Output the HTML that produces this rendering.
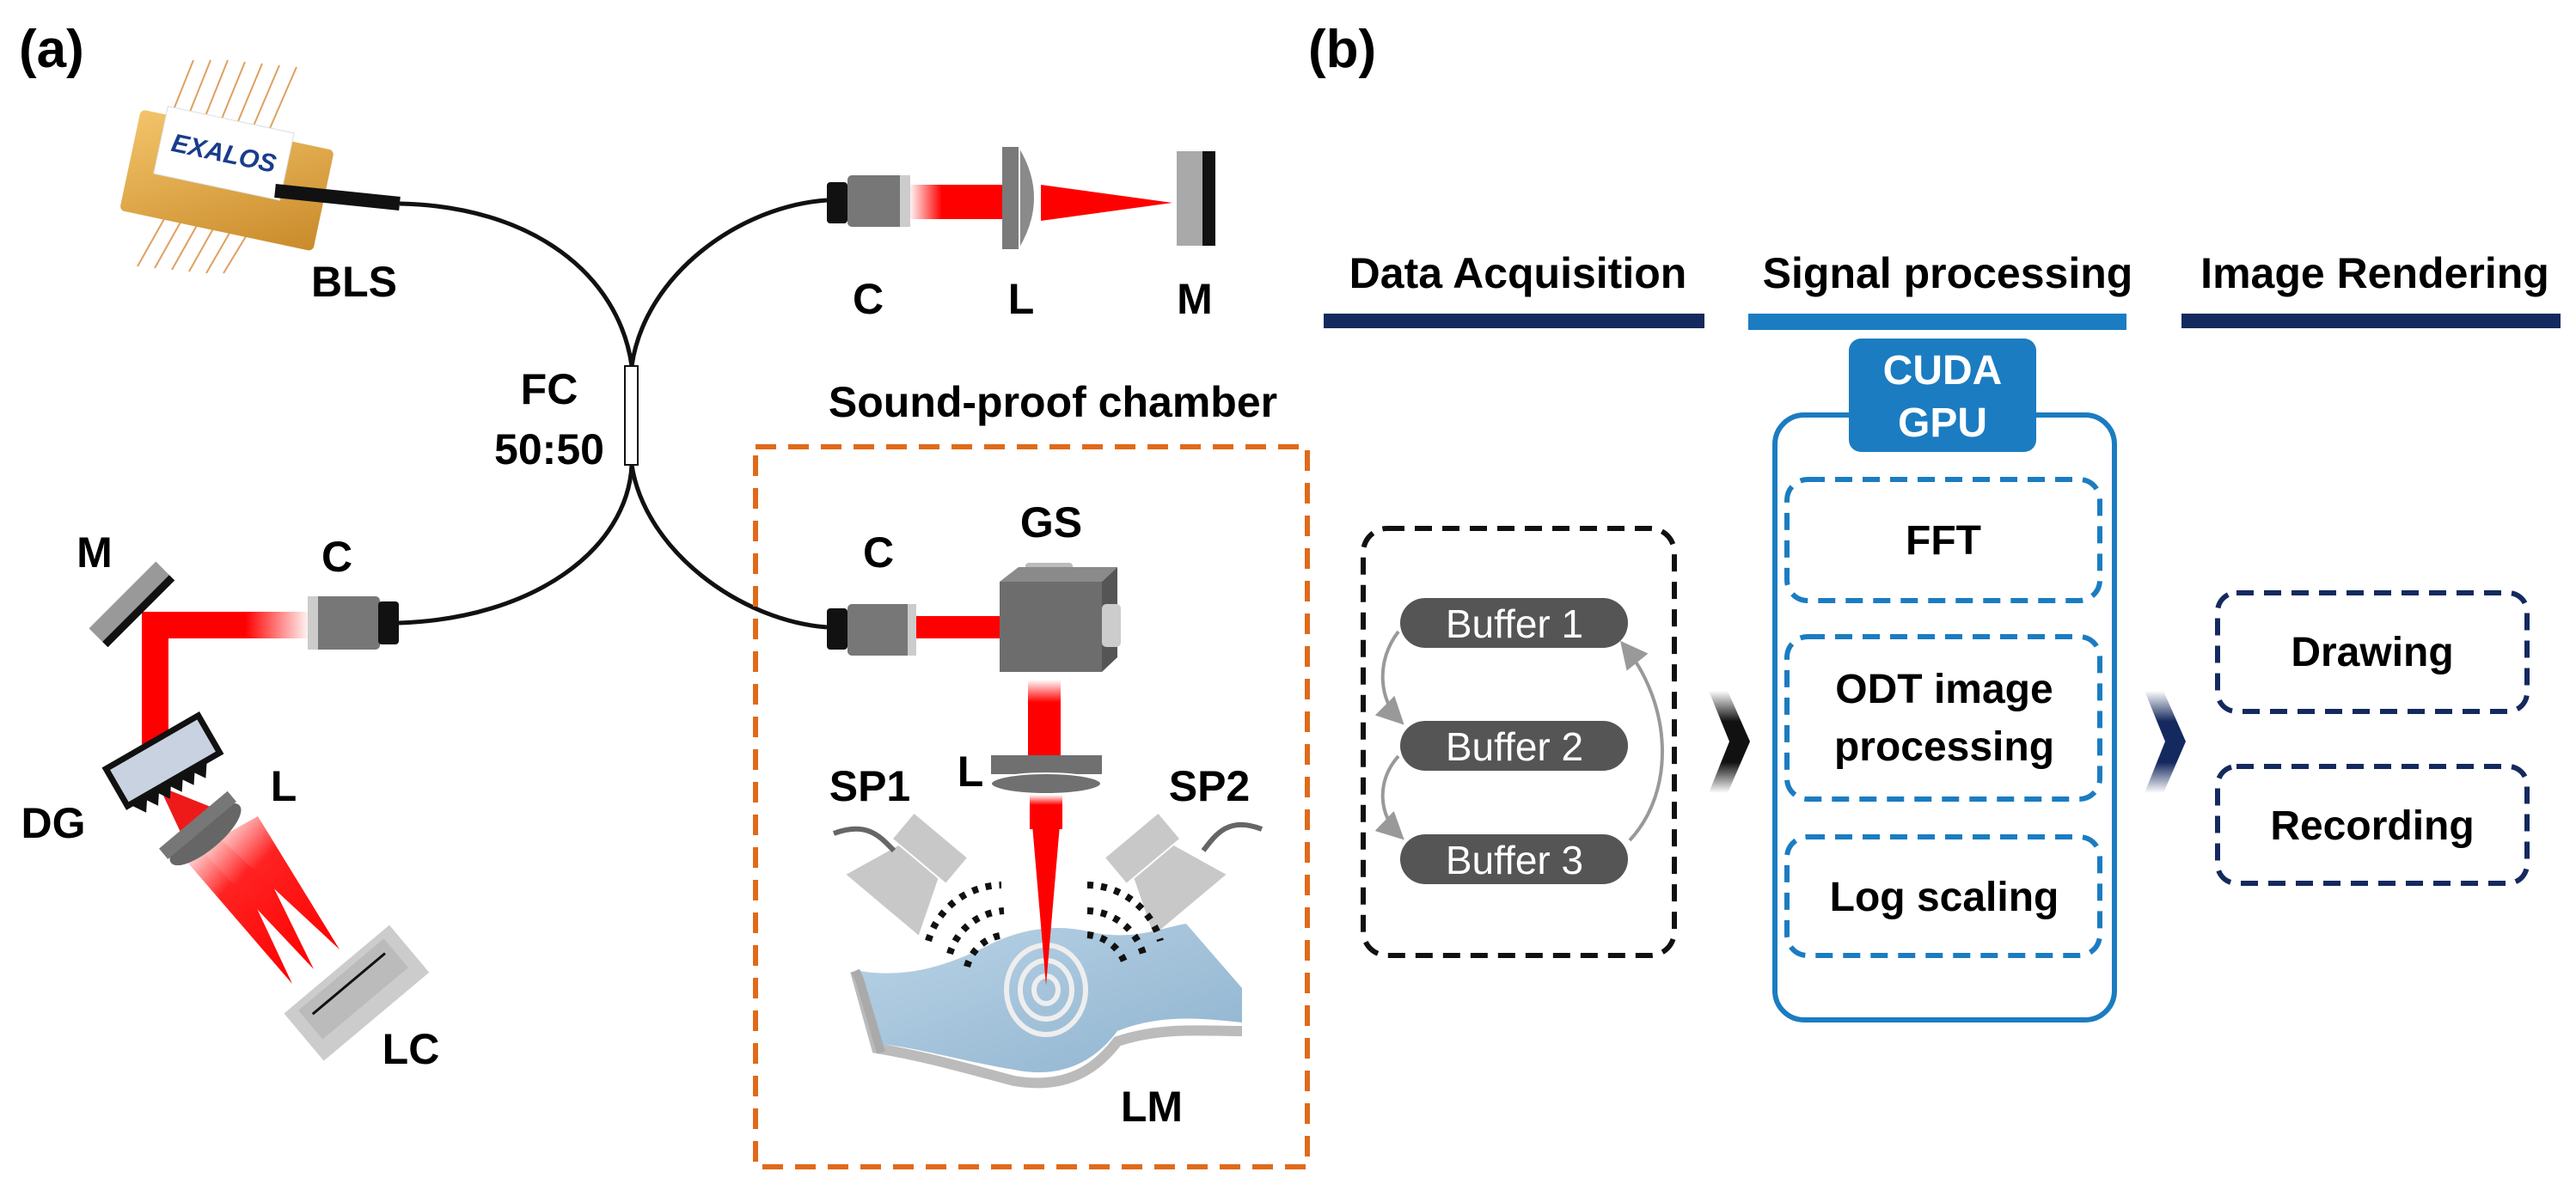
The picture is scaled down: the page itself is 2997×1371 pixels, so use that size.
<!DOCTYPE html>
<html><head><meta charset="utf-8"><style>
html,body{margin:0;padding:0;background:#fff;}
svg{display:block;}
text{font-family:"Liberation Sans","DejaVu Sans",sans-serif;font-weight:bold;}
</style></head><body>
<svg width="2997" height="1371" viewBox="0 0 2997 1371" xmlns="http://www.w3.org/2000/svg">
<defs>
<linearGradient id="fadeL" x1="0" x2="1"><stop offset="0" stop-color="#fff"/><stop offset="0.35" stop-color="#f00"/><stop offset="1" stop-color="#f00"/></linearGradient>
<linearGradient id="fadeR" x1="0" x2="1"><stop offset="0" stop-color="#f00"/><stop offset="0.6" stop-color="#f00"/><stop offset="1" stop-color="#fff"/></linearGradient>
<linearGradient id="fadeD" x1="0" y1="0" x2="0" y2="1"><stop offset="0" stop-color="#fff"/><stop offset="0.3" stop-color="#f00"/><stop offset="1" stop-color="#f00"/></linearGradient>
<linearGradient id="fan" x1="0" y1="0" x2="1" y2="1"><stop offset="0" stop-color="#fff"/><stop offset="0.35" stop-color="#f22"/><stop offset="1" stop-color="#f00"/></linearGradient>
<linearGradient id="gold" x1="0" y1="0" x2="1" y2="1"><stop offset="0" stop-color="#f3c46a"/><stop offset="1" stop-color="#c98a2a"/></linearGradient>
<linearGradient id="water" x1="0" y1="0" x2="1" y2="1"><stop offset="0" stop-color="#b9d3e6"/><stop offset="1" stop-color="#8fb3cf"/></linearGradient>
<linearGradient id="chevK" x1="0" y1="0" x2="0" y2="1"><stop offset="0" stop-color="#fff"/><stop offset="0.3" stop-color="#111"/><stop offset="0.7" stop-color="#111"/><stop offset="1" stop-color="#fff"/></linearGradient>
<linearGradient id="chevN" x1="0" y1="0" x2="0" y2="1"><stop offset="0" stop-color="#fff"/><stop offset="0.3" stop-color="#14295e"/><stop offset="0.7" stop-color="#14295e"/><stop offset="1" stop-color="#fff"/></linearGradient>
<marker id="ga" markerWidth="8" markerHeight="8" refX="6" refY="4" orient="auto"><path d="M0,0 L8,4 L0,8z" fill="#999"/></marker>
</defs>

<text x="22" y="78" font-size="62">(a)</text>

<g stroke="#e0a060" stroke-width="2">
<line x1="225" y1="70" x2="185" y2="170"/><line x1="245" y1="70" x2="205" y2="170"/><line x1="265" y1="70" x2="225" y2="170"/><line x1="285" y1="72" x2="245" y2="170"/><line x1="305" y1="74" x2="265" y2="170"/><line x1="325" y1="76" x2="285" y2="170"/><line x1="345" y1="78" x2="305" y2="170"/>
<line x1="205" y1="230" x2="160" y2="310"/><line x1="225" y1="232" x2="180" y2="312"/><line x1="245" y1="234" x2="200" y2="314"/><line x1="265" y1="236" x2="220" y2="316"/><line x1="285" y1="240" x2="240" y2="318"/><line x1="305" y1="244" x2="260" y2="318"/>
</g>
<g transform="translate(265,205) rotate(12)">
<rect x="-115" y="-55" width="230" height="120" rx="6" fill="url(#gold)"/>
<rect x="-85" y="-65" width="150" height="80" fill="#fff" stroke="#ddd"/>
<text x="-10" y="-15" font-size="30" fill="#1a3c8c" font-style="italic" text-anchor="middle">EXALOS</text>
</g>
<path d="M320,222 L465,237" stroke="#111" stroke-width="16" fill="none"/>
<text x="412" y="345" font-size="50" text-anchor="middle">BLS</text>

<g stroke="#111" stroke-width="5" fill="none">
<path d="M465,237 C620,240 720,320 735,426"/>
<path d="M962,233 C860,240 750,320 735,426"/>
<path d="M735,541 C730,640 620,720 464,725"/>
<path d="M735,541 C750,640 860,722 962,730"/>
</g>
<rect x="727" y="426" width="15" height="115" fill="#fff" stroke="#111" stroke-width="2"/>
<text x="639" y="470" font-size="50" text-anchor="middle">FC</text>
<text x="639" y="540" font-size="50" text-anchor="middle">50:50</text>

<rect x="1057" y="215" width="111" height="40" fill="url(#fadeL)"/>
<rect x="962" y="212" width="24" height="48" rx="4" fill="#111"/>
<rect x="986" y="204" width="71" height="60" rx="5" fill="#777"/>
<rect x="1047" y="204" width="12" height="60" fill="#ccc"/>
<polygon points="1211,215 1364,236 1211,257" fill="#f00"/>
<rect x="1166" y="171" width="20" height="119" fill="#7a7a7a"/>
<path d="M1186,171 Q1222,230 1186,290 Z" fill="#8a8a8a" stroke="#fff" stroke-width="2"/>
<rect x="1369" y="176" width="30" height="110" fill="#a9a9a9"/>
<rect x="1399" y="176" width="15" height="110" fill="#111"/>
<text x="1010" y="365" font-size="50" text-anchor="middle">C</text>
<text x="1188" y="365" font-size="50" text-anchor="middle">L</text>
<text x="1390" y="365" font-size="50" text-anchor="middle">M</text>

<rect x="170" y="712" width="192" height="31" fill="url(#fadeR)"/>
<rect x="165" y="712" width="31" height="170" fill="#f00"/>
<rect x="362" y="694" width="80" height="62" rx="5" fill="#777"/>
<rect x="358" y="694" width="12" height="62" fill="#ccc"/>
<rect x="440" y="700" width="24" height="50" rx="4" fill="#111"/>
<g transform="translate(158,708) rotate(-45)">
<rect x="-55" y="-22" width="110" height="22" fill="#999"/>
<rect x="-55" y="0" width="110" height="9" fill="#111"/>
</g>
<text x="110" y="660" font-size="50" text-anchor="middle">M</text>
<text x="392" y="665" font-size="50" text-anchor="middle">C</text>
<polygon points="185,915 260,945 220,990" fill="#ee1a1a"/>
<polygon points="215,1000 265,985 340,1145" fill="url(#fan)"/>
<polygon points="235,990 285,965 365,1128" fill="url(#fan)"/>
<polygon points="255,975 300,950 395,1105" fill="url(#fan)"/>
<g transform="translate(191,888) rotate(-30)">
<rect x="-62" y="-28" width="124" height="50" fill="#c8d2e0" stroke="#111" stroke-width="7"/>
<path d="M-55,24 l8,12 l8,-12 l8,12 l8,-12 l8,12 l8,-12 l8,12 l8,-12 l8,12 l8,-12 l8,12 l8,-12" fill="#111" stroke="#111" stroke-width="4"/>
</g>
<g transform="translate(239,971) rotate(-40)">
<ellipse cx="0" cy="0" rx="52" ry="18" fill="#666"/>
<rect x="-52" y="-22" width="104" height="16" fill="#777"/>
</g>
<text x="62" y="975" font-size="50" text-anchor="middle">DG</text>
<text x="330" y="932" font-size="50" text-anchor="middle">L</text>
<g transform="translate(411,1151) rotate(-40)">
<rect x="-80" y="-30" width="160" height="72" fill="#ccc"/>
<rect x="-65" y="-22" width="130" height="44" fill="#bbb"/>
<line x1="-55" y1="-8" x2="55" y2="-8" stroke="#111" stroke-width="3"/>
</g>
<text x="478" y="1238" font-size="50" text-anchor="middle">LC</text>

<text x="1225" y="485" font-size="50" text-anchor="middle">Sound-proof chamber</text>
<rect x="879" y="520" width="642" height="838" fill="none" stroke="#e06a1a" stroke-width="6" stroke-dasharray="24,14"/>
<rect x="1062" y="717" width="101" height="26" fill="#f00"/>
<rect x="962" y="708" width="24" height="48" rx="4" fill="#111"/>
<rect x="986" y="703" width="76" height="60" rx="5" fill="#777"/>
<rect x="1056" y="703" width="10" height="60" fill="#ccc"/>
<rect x="1193" y="655" width="55" height="30" rx="4" fill="#bbb"/>
<rect x="1163" y="677" width="119" height="105" fill="#6d6d6d"/>
<polygon points="1163,677 1185,660 1300,660 1282,677" fill="#8a8a8a"/>
<polygon points="1282,677 1300,660 1300,765 1282,782" fill="#555"/>
<rect x="1282" y="703" width="22" height="50" rx="5" fill="#ccc"/>
<text x="1223" y="625" font-size="50" text-anchor="middle">GS</text>
<text x="1022" y="660" font-size="50" text-anchor="middle">C</text>
<rect x="1196" y="791" width="38" height="88" fill="url(#fadeD)"/>
<rect x="1153" y="879" width="129" height="22" fill="#707070"/>
<ellipse cx="1217" cy="912" rx="64" ry="12" fill="#707070" stroke="#fff" stroke-width="2"/>
<text x="1129" y="915" font-size="50" text-anchor="middle">L</text>
<text x="1012" y="932" font-size="50" text-anchor="middle">SP1</text>
<text x="1407" y="932" font-size="50" text-anchor="middle">SP2</text>
<!-- membrane -->
<path d="M1000,1130 C1060,1140 1110,1120 1150,1100 C1190,1080 1230,1075 1270,1085 C1320,1095 1350,1080 1380,1075 L1445,1150 L1445,1190 C1400,1185 1350,1180 1300,1200 C1270,1240 1230,1255 1180,1245 C1120,1235 1070,1220 1025,1215 Z" fill="url(#water)"/>
<path d="M995,1130 L1020,1220 C1080,1230 1130,1245 1180,1258 C1240,1268 1275,1245 1300,1212 C1350,1195 1400,1200 1445,1200" fill="none" stroke="#bbb" stroke-width="12"/>
<path d="M995,1130 L1000,1140 L1025,1225" fill="none" stroke="#aaa" stroke-width="10"/>
<g fill="none" stroke="#eee" stroke-width="6">
<ellipse cx="1217" cy="1152" rx="14" ry="16"/>
<ellipse cx="1217" cy="1152" rx="30" ry="34"/>
<ellipse cx="1217" cy="1152" rx="46" ry="52"/>
</g>
<polygon points="1198,925 1236,925 1217,1147" fill="#f00"/>
<rect x="1198" y="925" width="38" height="40" fill="url(#fadeD)"/>
<g transform="translate(1062,1011) rotate(40)" fill="#c8c8c8">
<rect x="-40" y="-50" width="80" height="38"/>
<polygon points="-30,-10 30,-10 55,55 -55,55"/>
</g>
<path d="M970,970 C1010,955 1025,975 1040,990" stroke="#666" stroke-width="6" fill="none"/>
<g transform="translate(1349,1011) rotate(-40)" fill="#c8c8c8">
<rect x="-40" y="-50" width="80" height="38"/>
<polygon points="-30,-10 30,-10 55,55 -55,55"/>
</g>
<path d="M1468,965 C1430,950 1415,970 1400,990" stroke="#666" stroke-width="6" fill="none"/>
<g fill="none" stroke="#111" stroke-width="8" stroke-dasharray="7,9">
<path d="M1080,1095 A90,90 0 0 1 1165,1030"/>
<path d="M1105,1110 A70,70 0 0 1 1168,1060"/>
<path d="M1125,1125 A50,50 0 0 1 1170,1088"/>
<path d="M1265,1030 A90,90 0 0 1 1350,1095"/>
<path d="M1265,1060 A70,70 0 0 1 1330,1110"/>
<path d="M1265,1088 A50,50 0 0 1 1310,1125"/>
</g>
<text x="1340" y="1305" font-size="50" text-anchor="middle">LM</text>

<text x="1522" y="78" font-size="62">(b)</text>
<text x="1766" y="335" font-size="50" text-anchor="middle">Data Acquisition</text>
<text x="2266" y="335" font-size="50" text-anchor="middle">Signal processing</text>
<text x="2763" y="335" font-size="50" text-anchor="middle">Image Rendering</text>
<rect x="1540" y="365" width="443" height="17" fill="#14295e"/>
<rect x="2034" y="365" width="440" height="19" fill="#1b7cc1"/>
<rect x="2538" y="365" width="441" height="17" fill="#14295e"/>

<rect x="1586" y="615" width="362" height="497" rx="28" fill="none" stroke="#111" stroke-width="6" stroke-dasharray="20,12"/>
<g fill="#555">
<rect x="1629" y="696" width="265" height="58" rx="29"/>
<rect x="1629" y="839" width="265" height="58" rx="29"/>
<rect x="1629" y="971" width="265" height="58" rx="29"/>
</g>
<g fill="#fff" font-size="46" text-anchor="middle">
<text x="1762" y="742" style="font-weight:normal">Buffer 1</text>
<text x="1762" y="885" style="font-weight:normal">Buffer 2</text>
<text x="1762" y="1017" style="font-weight:normal">Buffer 3</text>
</g>
<g fill="none" stroke="#999" stroke-width="4" marker-end="url(#ga)">
<path d="M1627,735 C1600,770 1605,815 1628,838"/>
<path d="M1627,880 C1600,910 1605,950 1628,972"/>
<path d="M1896,978 C1950,920 1945,820 1890,752"/>
</g>
<polygon points="1988,804 2010,804 2036,863 2010,923 1988,923 2012,863" fill="url(#chevK)"/>

<rect x="2065" y="483" width="395" height="704" rx="34" fill="none" stroke="#1b7cc1" stroke-width="6"/>
<rect x="2151" y="394" width="218" height="132" rx="14" fill="#1b7cc1"/>
<text x="2260" y="447" font-size="48" fill="#fff" text-anchor="middle">CUDA</text>
<text x="2260" y="508" font-size="48" fill="#fff" text-anchor="middle">GPU</text>
<g fill="none" stroke="#1b7cc1" stroke-width="6" stroke-dasharray="20,12">
<rect x="2079" y="558" width="364" height="141" rx="24"/>
<rect x="2079" y="741" width="364" height="189" rx="24"/>
<rect x="2079" y="974" width="364" height="138" rx="24"/>
</g>
<text x="2261" y="645" font-size="48" text-anchor="middle">FFT</text>
<text x="2262" y="818" font-size="48" text-anchor="middle">ODT image</text>
<text x="2262" y="885" font-size="48" text-anchor="middle">processing</text>
<text x="2262" y="1060" font-size="48" text-anchor="middle">Log scaling</text>

<polygon points="2495,804 2517,804 2543,863 2517,923 2495,923 2519,863" fill="url(#chevN)"/>
<g fill="none" stroke="#14295e" stroke-width="6" stroke-dasharray="20,12">
<rect x="2580" y="690" width="360" height="138" rx="22"/>
<rect x="2580" y="892" width="360" height="136" rx="22"/>
</g>
<text x="2760" y="775" font-size="48" text-anchor="middle">Drawing</text>
<text x="2760" y="977" font-size="48" text-anchor="middle">Recording</text>
</svg>
</body></html>
